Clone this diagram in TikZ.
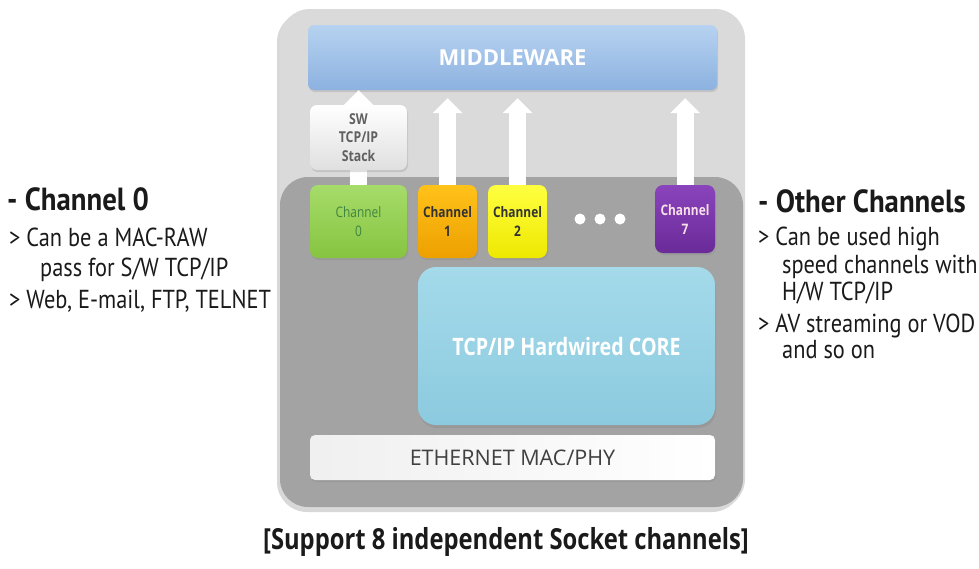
\documentclass[tikz,border=0pt]{standalone}
\usepackage{fontspec}
\setmainfont{Open Sans}
\newfontfamily\sidefont{PT Sans}[FakeStretch=0.86]
\newfontfamily\sideheadfont{PT Sans}[FakeStretch=0.9]
\newfontfamily\boxfont{Open Sans}[FakeStretch=0.82]
\newfontfamily\widefont{Open Sans}
\usetikzlibrary{arrows.meta,shadows,shadings}
\definecolor{outerbg}{HTML}{DADADA}
\definecolor{darkbg}{HTML}{A3A3A3}
\definecolor{mwtop}{HTML}{B7D2F0}
\definecolor{mwbot}{HTML}{8CB2E0}
\definecolor{gtop}{HTML}{A6DC6A}
\definecolor{gbot}{HTML}{86C440}
\definecolor{otop}{HTML}{FFC21A}
\definecolor{obot}{HTML}{EDA000}
\definecolor{ytop}{HTML}{FFFF40}
\definecolor{ybot}{HTML}{EEE800}
\definecolor{ptop}{HTML}{8A44BC}
\definecolor{pbot}{HTML}{6A2A98}
\definecolor{coretop}{HTML}{A4DAEA}
\definecolor{corebot}{HTML}{8CCADF}
\definecolor{txtdark}{HTML}{1A1A1A}
\tikzset{
  chan/.style={rounded corners=8pt, inner sep=0pt, align=center,
    font=\boxfont\fontsize{14.5}{19}\selectfont, drop shadow={shadow xshift=1pt, shadow yshift=-2pt, opacity=0.25}},
  uparrow/.style={draw=white, line width=17pt,
    -{Triangle[width=29pt,length=15pt]}},
  sidehead/.style={anchor=base west, inner sep=0pt, text=txtdark,
    font=\sideheadfont\bfseries\fontsize{32}{32}\selectfont},
  sideline/.style={anchor=base west, inner sep=0pt, text=txtdark,
    font=\sidefont\fontsize{26}{26}\selectfont},
  dot/.style={circle, fill=white, inner sep=0pt, minimum size=11pt}
}
\begin{document}
\begin{tikzpicture}[x=1pt,y=-1pt]
\useasboundingbox[fill=white] (0,0) rectangle (979,568);

% background panels
\node[rounded corners=30pt, fill=outerbg, minimum width=465pt, minimum height=500pt,
  drop shadow={shadow xshift=-3pt, shadow yshift=-3pt, opacity=0.3}] (outer) at (512.5,259) {};
\node[rounded corners=28pt, fill=darkbg, minimum width=463pt, minimum height=330pt] (dark) at (511.5,342) {};

% middleware
\node[rounded corners=6pt, top color=mwtop, bottom color=mwbot, minimum width=409pt, minimum height=65pt,
  text=white, font=\widefont\bfseries\fontsize{22}{22}\selectfont,
  drop shadow={shadow xshift=1pt, shadow yshift=-2pt, opacity=0.25}] (mw) at (512.5,57.5) {MIDDLEWARE};

% channels (positions)
\coordinate (c0) at (358.5,221.5);
\coordinate (c1) at (447.5,221.5);
\coordinate (c2) at (517.5,221.5);
\coordinate (c7) at (685,219);
\coordinate (swc) at (358.5,137.5);

% arrows (drawn below boxes)
\draw[uparrow] (c0) -- (swc);
\draw[uparrow] (swc) -- (swc |- mw.south);
\draw[uparrow] (c1) -- ([yshift=-8pt]c1 |- mw.south);
\draw[uparrow] (c2) -- ([yshift=-8pt]c2 |- mw.south);
\draw[uparrow] (c7) -- ([yshift=-8pt]c7 |- mw.south);

% SW stack
\node[rounded corners=7pt, top color=white, bottom color=gray!25, minimum width=97pt, minimum height=65pt,
  inner sep=0pt, align=center, text=gray!75!black, font=\boxfont\bfseries\fontsize{15}{18.5}\selectfont,
  drop shadow={shadow xshift=1pt, shadow yshift=-2pt, opacity=0.25}] (sw) at (swc) {SW\\TCP/IP\\Stack};

\node[chan, top color=gtop, bottom color=gbot, minimum width=97pt, minimum height=73pt,
  text=green!35!black!75] (ch0) at (c0) {Channel\\0};
\node[chan, top color=otop, bottom color=obot, minimum width=59pt, minimum height=73pt,
  text=black!80, font=\boxfont\bfseries\fontsize{14.5}{19}\selectfont] (ch1) at (c1) {Channel\\1};
\node[chan, top color=ytop, bottom color=ybot, minimum width=59pt, minimum height=73pt,
  text=black!80, font=\boxfont\bfseries\fontsize{14.5}{19}\selectfont] (ch2) at (c2) {Channel\\2};
\node[chan, top color=ptop, bottom color=pbot, minimum width=60pt, minimum height=68pt,
  text=white!88!purple, font=\boxfont\bfseries\fontsize{14.5}{19}\selectfont] (ch7) at (c7) {Channel\\7};

\node[dot] (d1) at (580,219) {};
\node[dot] (d2) at (600,219) {};
\node[dot] (d3) at (620,219) {};

% core
\node[rounded corners=18pt, top color=coretop, bottom color=corebot, minimum width=297pt, minimum height=158pt,
  text=white, font=\boxfont\bfseries\fontsize{24}{24}\selectfont,
  drop shadow={shadow xshift=1pt, shadow yshift=-3pt, opacity=0.3}] (core) at (566.5,346) {TCP/IP Hardwired CORE};

% ethernet
\node[rounded corners=5pt, left color=gray!12, right color=white, minimum width=405pt, minimum height=45pt,
  text=black!75, font=\widefont\fontsize{21.5}{21.5}\selectfont,
  drop shadow={shadow xshift=1pt, shadow yshift=-2pt, opacity=0.25}] (eth) at (512.5,457.5) {ETHERNET MAC/PHY};

% left text
\node[sidehead] (lh) at (7,210) {- Channel 0};
\node[sideline] (l1) at (9,246) {> Can be a MAC-RAW};
\node[sideline] (l2) at (40,276) {pass for S/W TCP/IP};
\node[sideline] (l3) at (9,308) {> Web, E-mail, FTP, TELNET};

% right text
\node[sidehead] (rh) at (758,212) {- Other Channels};
\node[sideline] (r1) at (758,245) {> Can be used high};
\node[sideline] (r2) at (782,273) {speed channels with};
\node[sideline] (r3) at (782,300) {H/W TCP/IP};
\node[sideline] (r4) at (758,332) {> AV streaming or VOD};
\node[sideline] (r5) at (782,358) {and so on};

% caption
\node[anchor=base, inner sep=0pt, text=txtdark, font=\boxfont\bfseries\fontsize{29}{29}\selectfont] (cap) at (506,549) {[Support 8 independent Socket channels]};
\end{tikzpicture}
\end{document}
